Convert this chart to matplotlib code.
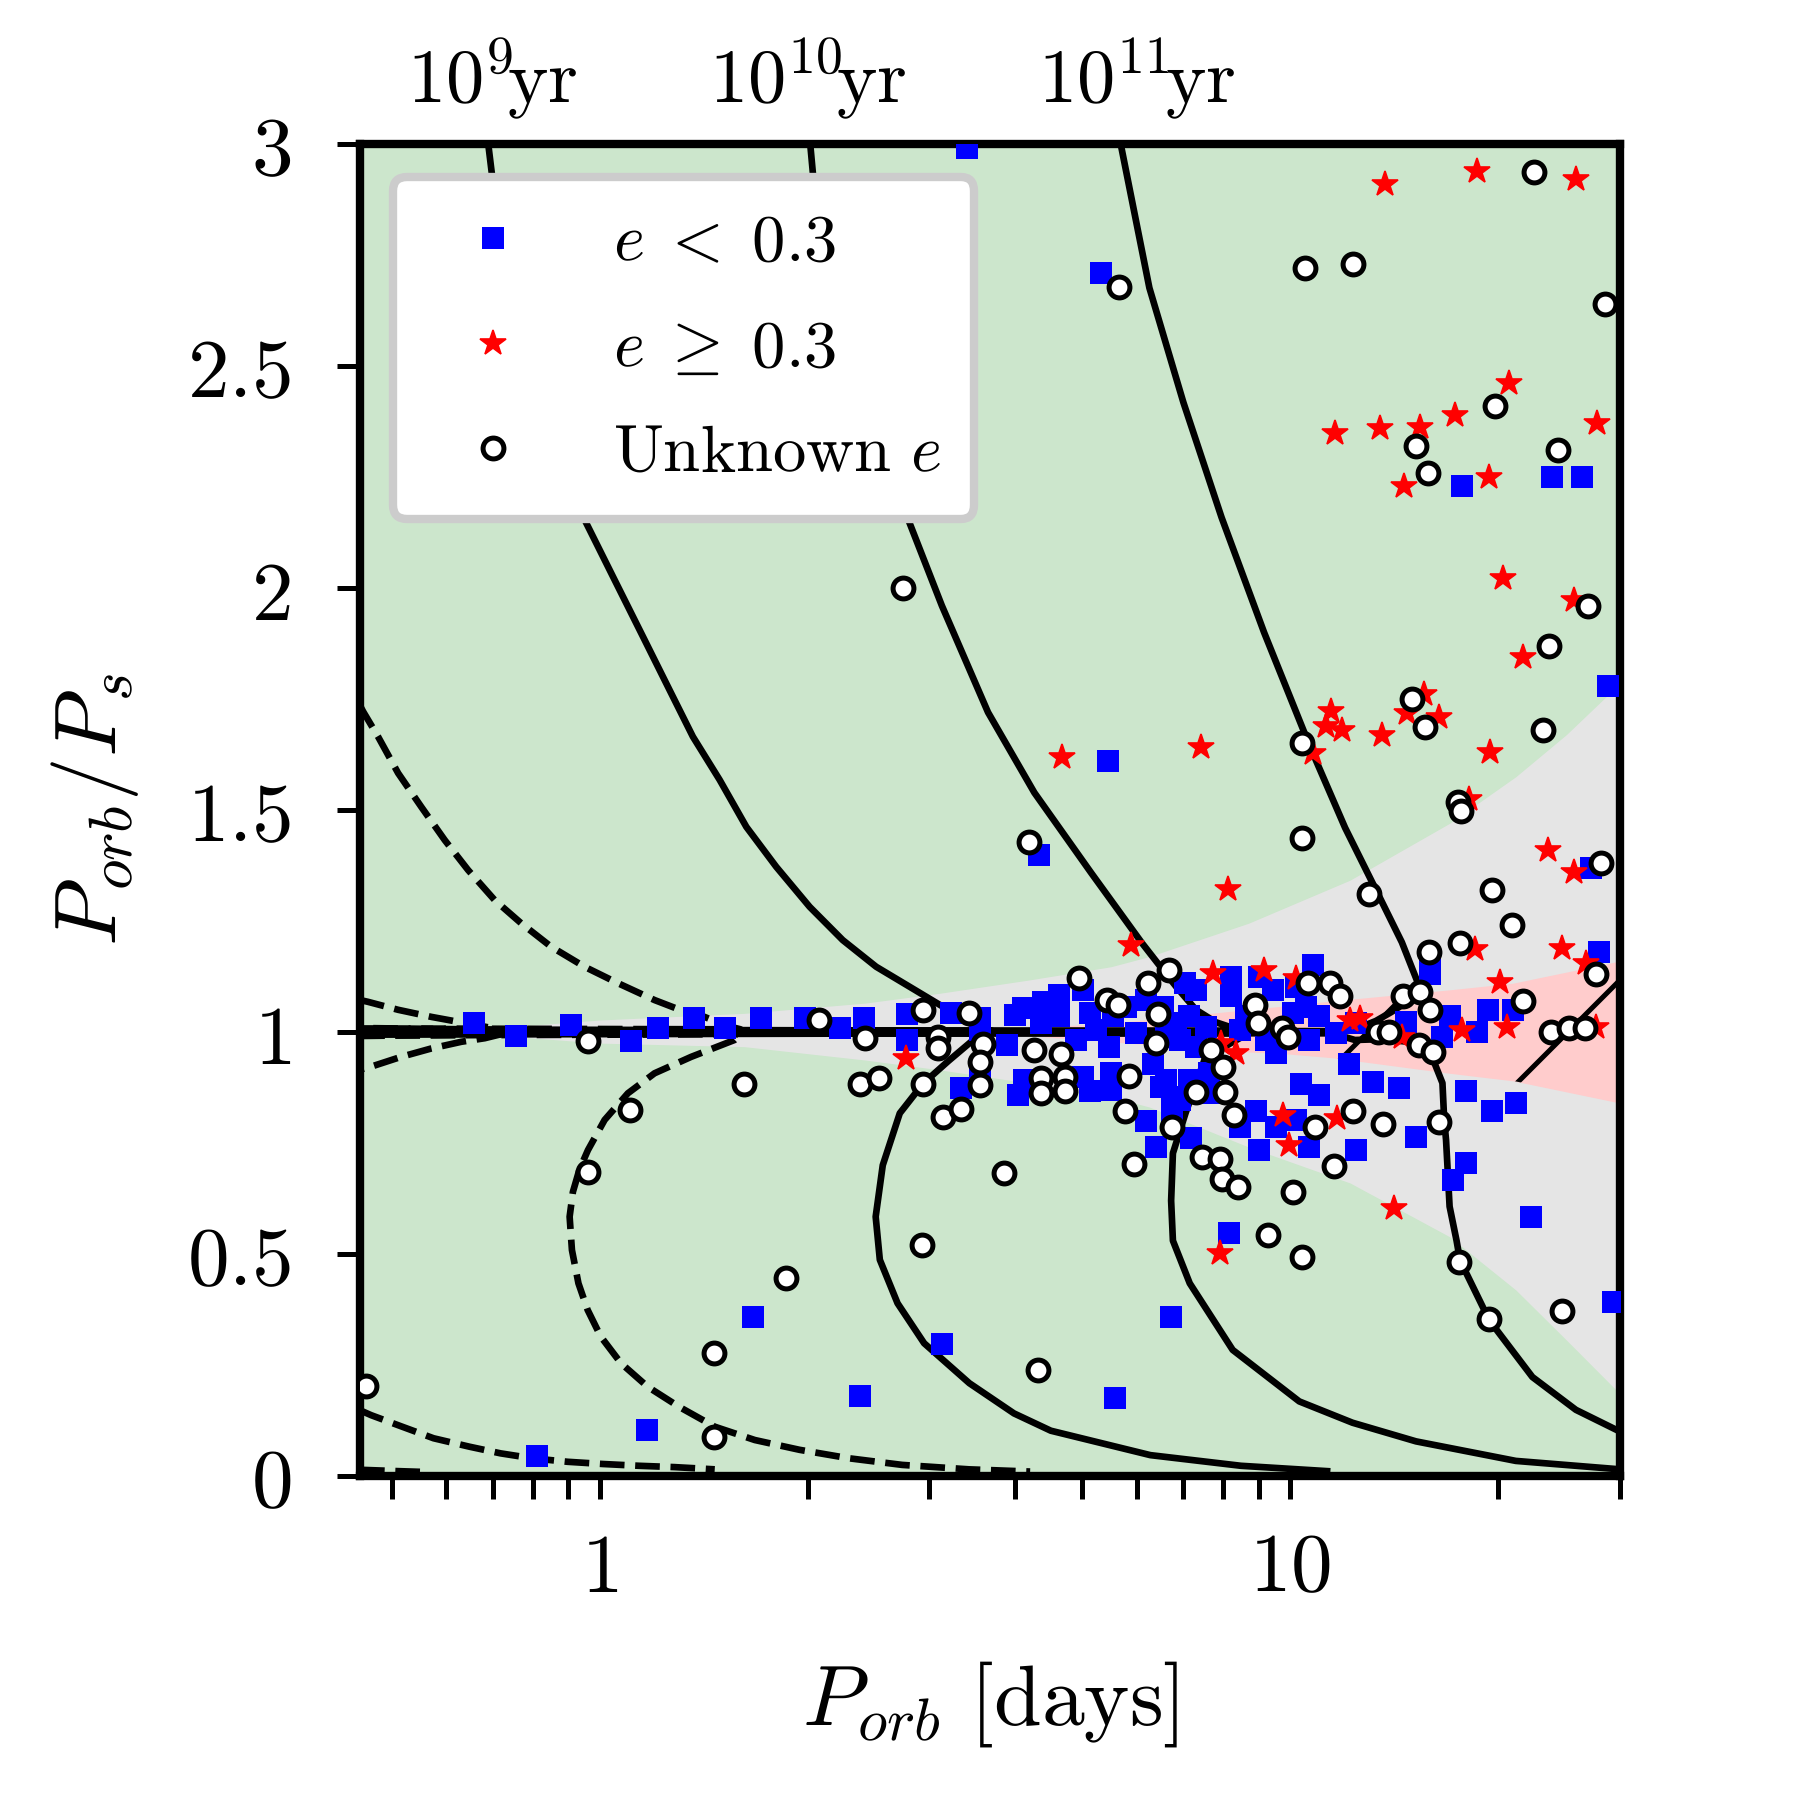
import numpy as np
import matplotlib
matplotlib.use('Agg')
import matplotlib.pyplot as plt
from matplotlib.ticker import NullFormatter

plt.rcParams['mathtext.fontset'] = 'cm'
plt.rcParams['font.family'] = 'serif'
plt.rcParams['font.serif'] = ['DejaVu Serif']
plt.rcParams['hatch.linewidth'] = 0.6
plt.rcParams['text.hinting'] = 'no_hinting'

# ---- observed systems (P_orb [d], P_orb/P_s) ----
low_e = [(0.657, 1.021), (0.758, 0.991), (0.910, 1.016), (1.109, 0.980), (1.214, 1.010),
         (1.368, 1.031), (1.517, 1.010), (1.714, 1.031), (1.980, 1.031), (2.225, 1.010),
         (2.418, 1.031), (2.79, 1.041), (2.79, 0.982),
         (3.23, 1.042), (3.55, 1.031), (3.55, 1.005), (3.89, 0.971), (3.99, 1.038), (4.10, 1.053),
         (4.38, 1.068), (4.63, 1.083), (4.36, 1.020), (4.63, 1.035), (4.90, 0.982), (5.01, 1.095),
         (5.12, 1.042), (5.23, 1.005), (5.47, 0.967), (5.53, 1.035), (5.78, 1.057), (5.98, 0.997),
         (6.18, 1.072), (6.53, 1.057), (6.61, 0.989), (6.83, 1.020), (3.34, 0.875), (3.55, 0.903),
         (4.04, 0.857), (4.12, 0.892), (5.01, 0.899), (5.12, 0.866), (5.50, 0.907), (5.50, 0.869),
         (6.32, 0.929), (6.50, 0.877), (6.75, 0.854), (6.75, 0.817), (6.17, 0.800), (6.38, 0.742),
         (7.03, 1.110), (7.30, 1.095), (7.14, 1.035), (7.55, 1.012), (6.91, 0.982), (7.30, 0.967),
         (6.61, 0.892), (7.14, 0.892), (7.63, 0.907), (7.72, 0.862), (6.91, 0.847), (7.18, 0.761),
         (8.21, 1.125), (8.21, 1.080), (8.63, 1.035), (9.02, 1.125), (9.43, 1.095), (8.44, 1.005),
         (9.22, 0.982), (9.53, 0.952), (10.19, 1.102), (10.77, 1.151), (10.08, 1.042), (10.54, 1.057),
         (11.0, 1.035), (10.65, 0.982), (11.65, 0.997), (12.45, 1.020), (12.17, 0.929), (13.16, 0.888),
         (14.38, 0.873), (14.70, 1.023), (15.9, 1.165), (15.9, 1.13), (10.36, 0.884), (11.0, 0.858),
         (8.92, 0.821), (8.44, 0.787), (9.53, 0.787), (9.02, 0.734), (10.19, 0.802), (10.65, 0.742),
         (12.45, 0.734), (15.20, 0.764), (8.16, 0.547), (17.2, 0.667),
         (19.3, 1.050), (21.0, 1.050), (18.6, 1.001), (17.0, 1.035), (16.6, 0.989), (17.96, 0.866),
         (19.6, 0.821), (21.2, 0.839), (28.8, 1.780), (27.2, 1.369), (28.0, 1.181),
         (17.96, 0.704), (22.3, 0.584), (6.72, 0.359), (29.3, 0.393),
         (3.40, 2.99), (5.32, 2.71), (5.44, 1.611), (4.32, 1.399), (17.69, 2.229), (23.9, 2.25),
         (26.4, 2.25), (3.13, 0.297), (5.57, 0.176), (2.38, 0.181), (1.67, 0.357), (1.17, 0.103),
         (0.811, 0.044)]

high_e = [(13.7, 2.911), (18.6, 2.940), (25.9, 2.921), (11.6, 2.348), (13.5, 2.360), (15.4, 2.362),
          (17.3, 2.390), (20.7, 2.461), (27.8, 2.371), (14.6, 2.230), (19.4, 2.251), (20.3, 2.022),
          (25.7, 1.973), (21.7, 1.845), (7.43, 1.641), (11.45, 1.722), (11.26, 1.689), (11.88, 1.680),
          (10.77, 1.628), (13.57, 1.670), (14.74, 1.719), (15.63, 1.761), (16.39, 1.710), (19.45, 1.631),
          (18.12, 1.524), (8.12, 1.321), (23.6, 1.411), (25.7, 1.361), (24.7, 1.190), (18.48, 1.187),
          (26.8, 1.155), (20.1, 1.113), (20.6, 1.012), (27.7, 1.012), (17.7, 1.005), (14.5, 0.989),
          (12.2, 1.027), (12.6, 1.031), (10.19, 1.121), (9.17, 1.140), (7.72, 1.132), (7.94, 0.975),
          (8.35, 0.952), (9.75, 0.813), (11.7, 0.806), (9.97, 0.745), (14.14, 0.603), (7.90, 0.503),
          (4.67, 1.619), (5.88, 1.197), (2.78, 0.941)]

unknown_e = [(0.459, 0.202), (0.962, 0.980), (1.106, 0.825), (0.962, 0.685), (1.618, 0.884),
             (1.463, 0.277), (1.463, 0.087), (1.862, 0.445), (2.075, 1.028), (2.38, 0.884),
             (2.42, 0.986), (2.54, 0.896), (2.75, 1.999), (2.94, 1.050), (2.94, 0.884), (2.93, 0.520),
             (3.09, 0.989), (3.09, 0.963), (3.43, 1.042), (3.59, 0.973), (3.55, 0.933), (3.55, 0.881),
             (3.14, 0.809), (3.34, 0.826), (3.85, 0.682), (4.18, 1.427), (4.25, 0.959), (4.65, 0.950),
             (4.35, 0.896), (4.35, 0.862), (4.71, 0.899), (4.71, 0.866), (4.31, 0.239), (4.95, 1.121),
             (5.42, 1.072), (5.62, 1.061), (6.22, 1.110), (6.68, 1.140), (6.43, 1.041), (6.38, 0.975),
             (5.83, 0.901), (5.77, 0.821), (5.93, 0.703), (6.75, 0.787), (5.65, 2.679), (7.68, 0.959),
             (7.98, 0.922), (8.05, 0.864), (7.29, 0.864), (8.30, 0.813), (8.90, 1.061), (8.97, 1.020),
             (9.73, 1.008), (9.91, 0.989), (10.6, 1.110), (11.41, 1.111), (11.80, 1.081), (10.87, 0.785),
             (12.31, 0.823), (13.60, 0.793), (11.58, 0.698), (7.45, 0.718), (7.91, 0.713), (7.95, 0.668),
             (8.39, 0.650), (10.08, 0.639), (9.27, 0.543), (10.39, 0.494), (13.38, 1.001), (13.88, 1.001),
             (14.57, 1.081), (15.40, 1.091), (15.93, 1.050), (15.37, 0.971), (16.07, 0.956), (15.89, 1.181),
             (16.39, 0.798), (17.6, 1.200), (17.57, 0.481), (19.36, 0.353), (24.7, 0.372), (15.0, 1.750),
             (15.68, 1.688), (23.2, 1.680), (10.39, 1.650), (10.39, 1.438), (17.46, 1.519), (17.66, 1.498),
             (12.98, 1.310), (19.58, 1.320), (20.91, 1.241), (28.2, 1.381), (27.7, 1.131), (21.7, 1.070),
             (23.8, 1.001), (25.3, 1.008), (26.7, 1.008), (22.5, 2.938), (10.5, 2.720), (12.3, 2.729),
             (28.5, 2.640), (19.8, 2.410), (15.2, 2.320), (15.8, 2.258), (24.4, 2.311), (27.0, 1.959),
             (23.7, 1.869)]

# ---- shaded regions (boundaries) ----
gray_P = [0.75, 1.0, 1.62, 2.42, 3.1, 4.18, 5.5, 6.25, 8.7, 12.2, 17.0, 21.2, 25.1, 30.0]
gray_hi = [1.012, 1.027, 1.042, 1.065, 1.087, 1.117, 1.147, 1.17, 1.245, 1.342, 1.47, 1.575, 1.67, 1.785]
gray_lo = [0.990, 0.975, 0.967, 0.937, 0.915, 0.885, 0.854, 0.831, 0.741, 0.66, 0.539, 0.419, 0.306, 0.185]

pink_P = [3.5, 4.5, 5.5, 8.0, 10.0, 11.5, 17.0, 21.0, 30.0]
pink_hi = [1.0, 1.012, 1.02, 1.045, 1.06, 1.07, 1.095, 1.11, 1.16]
pink_lo = [1.0, 0.988, 0.978, 0.958, 0.95, 0.942, 0.907, 0.89, 0.84]
hatch_start = 11.5

# ---- timescale contours ----
t9_up = [(0.69, 3.0), (0.70, 2.92), (0.75, 2.7), (0.82, 2.45), (0.88, 2.3), (0.94, 2.17),
         (1.05, 2.02), (1.162, 1.883), (1.263, 1.770), (1.365, 1.665), (1.492, 1.568), (1.631, 1.462),
         (1.802, 1.372), (2.014, 1.282), (2.249, 1.207), (2.514, 1.147), (2.81, 1.102), (3.14, 1.057),
         (3.43, 1.02), (3.6, 1.006), (3.7, 1.003), (0.45, 1.006)]
t9_low = [(0.45, 0.994), (3.62, 0.997), (3.45, 0.978), (3.2, 0.935), (2.94, 0.884), (2.72, 0.817),
          (2.57, 0.70), (2.51, 0.584), (2.545, 0.487), (2.70, 0.389), (2.95, 0.299), (3.43, 0.209),
          (3.98, 0.141), (4.5, 0.102), (6.27, 0.047), (8.48, 0.023), (11.3, 0.011)]
t10_up = [(2.018, 3.0), (2.04, 2.92), (2.2, 2.65), (2.45, 2.38), (2.79, 2.159), (3.13, 1.96),
          (3.65, 1.72), (4.26, 1.539), (5.15, 1.358), (6.1, 1.20), (6.5, 1.145), (6.85, 1.10),
          (7.3, 1.05), (7.8, 1.022), (8.3, 1.008), (8.7, 1.003), (0.45, 1.004)]
t10_low = [(0.45, 0.996), (8.7, 0.997), (8.2, 0.975), (7.52, 0.94), (7.05, 0.817), (6.76, 0.727),
           (6.72, 0.62), (6.76, 0.53), (7.15, 0.434), (8.25, 0.284), (10.3, 0.168), (12.3, 0.12),
           (15.2, 0.078), (21.2, 0.034), (30.0, 0.015)]
t11_up = [(5.68, 3.0), (6.25, 2.676), (7.0, 2.418), (7.95, 2.159), (9.16, 1.9), (10.68, 1.642),
          (12.0, 1.46), (13.4, 1.31), (14.5, 1.202), (15.3, 1.11), (15.6, 1.085), (15.0, 1.075),
          (14.0, 1.045), (13.3, 1.025), (12.5, 1.008), (11.5, 1.002), (0.45, 1.002)]
t11_low = [(0.45, 0.998), (11.5, 0.997), (12.4, 0.982), (13.6, 0.984), (15.0, 0.977), (16.1, 0.937),
           (16.6, 0.885), (16.7, 0.80), (16.8, 0.757), (17.0, 0.607), (17.4, 0.53), (17.6, 0.486),
           (19.4, 0.351), (22.4, 0.223), (25.9, 0.149), (30.0, 0.10)]
t8_up = [(0.45, 1.735), (0.455, 1.721), (0.478, 1.665), (0.511, 1.583), (0.552, 1.507), (0.597, 1.432),
         (0.645, 1.365), (0.705, 1.297), (0.770, 1.245), (0.851, 1.192), (0.951, 1.147), (1.063, 1.110),
         (1.201, 1.072), (1.327, 1.046), (1.419, 1.034), (1.52, 1.015), (1.6, 1.006), (0.45, 1.008)]
t8_low = [(0.45, 0.992), (1.6, 0.995), (1.568, 0.982), (1.357, 0.944), (1.201, 0.907), (1.099, 0.862),
          (1.017, 0.802), (0.962, 0.734), (0.935, 0.69), (0.915, 0.64), (0.905, 0.584), (0.912, 0.509),
          (0.932, 0.434), (0.961, 0.374), (1.004, 0.314), (1.074, 0.254), (1.174, 0.201), (1.303, 0.156),
          (1.468, 0.111), (1.678, 0.081), (1.947, 0.059), (2.294, 0.040), (2.742, 0.025), (3.426, 0.015),
          (4.2, 0.010)]
t7_up = [(0.45, 1.072), (0.462, 1.068), (0.511, 1.050), (0.571, 1.034), (0.624, 1.023), (0.682, 1.012),
         (0.72, 1.005), (0.45, 1.009)]
t7_low = [(0.45, 0.991), (0.72, 0.995), (0.682, 0.986), (0.631, 0.978), (0.571, 0.963), (0.516, 0.944),
          (0.467, 0.922), (0.45, 0.915)]
t7_tail = [(0.45, 0.148), (0.467, 0.137), (0.518, 0.111), (0.575, 0.085), (0.648, 0.066), (0.719, 0.051),
           (0.798, 0.040), (0.899, 0.032), (1.012, 0.027), (1.14, 0.023), (1.284, 0.020), (1.468, 0.015)]
t6_tail = [(0.45, 0.014), (0.51, 0.011), (0.56, 0.009)]

solid_curves = [t9_up, t9_low, t10_up, t10_low, t11_up, t11_low]
dashed_curves = [t8_up, t8_low, t7_up, t7_low, t7_tail, t6_tail]

age_label_P = [0.70, 2.0, 6.0]
age_labels = [r'$10^{9}\!\mathrm{yr}$', r'$10^{10}\!\mathrm{yr}$', r'$10^{11}\!\mathrm{yr}$']

xtick_vals = [1, 10]
ytick_vals = [0, 0.5, 1, 1.5, 2, 2.5, 3]
ytick_labels = ['0', '0.5', '1', '1.5', '2', '2.5', '3']

# ---- figure ----
fig = plt.figure(figsize=(3, 3), dpi=600)
ax = fig.add_axes([0.2, 0.18, 0.7, 0.74])
ax.set_xscale('log')
ax.set_facecolor('#cce6cc')

ax.fill_between(gray_P, gray_lo, gray_hi, color='#e5e5e5', lw=0, zorder=1)
ax.fill_between(pink_P, pink_lo, pink_hi, color='#ffcccc', lw=0, zorder=1.1)
pp = np.array(pink_P)
m = pp >= hatch_start
ax.fill_between(pp[m], np.array(pink_lo)[m], np.array(pink_hi)[m], facecolor='none',
                edgecolor='k', hatch='/', lw=0, zorder=1.2)

for c in solid_curves:
    c = np.array(c)
    ax.plot(c[:, 0], c[:, 1], 'k-', lw=0.8, zorder=2)
for c in dashed_curves:
    c = np.array(c)
    ax.plot(c[:, 0], c[:, 1], 'k--', lw=0.8, zorder=2)

lo = np.array(low_e)
hi = np.array(high_e)
un = np.array(unknown_e)
ax.plot(lo[:, 0], lo[:, 1], ls='none', marker='s', ms=2.6, color='b', mew=0,
        label=r'$e\;<\;0.3$', zorder=3)
ax.plot(hi[:, 0], hi[:, 1], ls='none', marker='*', ms=3.2, color='r', mew=0.2,
        label=r'$e\;\geq\;0.3$', zorder=4)
ax.plot(un[:, 0], un[:, 1], ls='none', marker='o', ms=2.5, mfc='w', mec='k', mew=0.6,
        label=r'$\mathrm{Unknown}\ e$', zorder=5)

ax.set_xlim(0.45, 30)
ax.set_ylim(0, 3)
ax.set_xticks(xtick_vals)
ax.set_xticklabels(['$%d$' % v for v in xtick_vals])
ax.xaxis.set_minor_formatter(NullFormatter())
ax.set_yticks(ytick_vals)
ax.set_yticklabels(['$%s$' % s for s in ytick_labels])
ax.tick_params(which='both', direction='out', length=2.8, width=0.6, labelsize=10,
               top=False, right=False)
ax.tick_params(axis='y', pad=5.5)
for s in ax.spines.values():
    s.set_linewidth(1.0)

ax.set_xlabel(r'$P_{orb}\ [\mathrm{days}]$', fontsize=10.3, labelpad=6)
ax.set_ylabel(r'$P_{orb}/P_s$', fontsize=10.5, labelpad=5.5)

for p, lab in zip(age_label_P, age_labels):
    ax.text(p, 1.05, lab, transform=ax.get_xaxis_transform(), ha='center', va='center', fontsize=9.2)

leg = ax.legend(loc='upper left', fontsize=8, framealpha=1, edgecolor='0.8',
                labelspacing=0.6, borderpad=0.5)
leg.set_zorder(10)

fig.savefig('out.png', dpi=600)
